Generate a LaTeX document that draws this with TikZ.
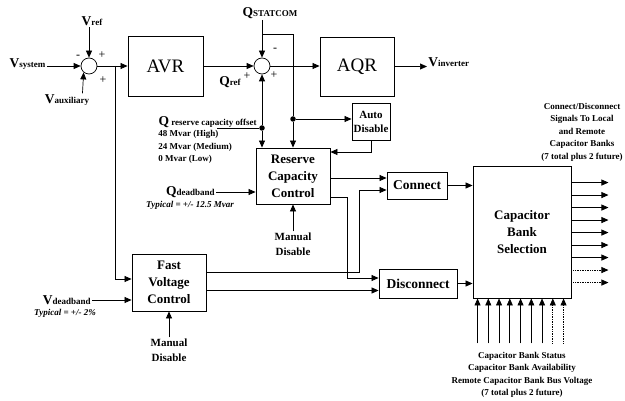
\documentclass[tikz,border=0pt]{standalone}
\usepackage{fontspec}
\setmainfont{Liberation Serif}
\usetikzlibrary{arrows.meta, positioning}

\newcommand{\senal}[2]{{\fontsize{13.5}{13.5}\selectfont #1}{\fontsize{9}{9}\selectfont #2}}

\begin{document}
\begin{tikzpicture}[x=1pt, y=-1pt, >={Triangle[length=7pt,width=6pt]},
                  line width=0.7pt,
                  bloque/.style={draw, line width=0.9pt, inner sep=1pt, align=center,
                    font=\bfseries\fontsize{13}{17}\selectfont},
                  grande/.style={draw, line width=0.9pt, font=\fontsize{19}{19}\selectfont},
                  suma/.style={draw, circle, minimum size=16pt, inner sep=0pt},
                  signo/.style={inner sep=0pt, font=\fontsize{12}{12}\selectfont},
                  etiqueta/.style={inner sep=1pt, font=\bfseries},
                  nota/.style={inner sep=1pt, align=center, font=\bfseries\fontsize{9}{12.5}\selectfont},
                  tipico/.style={inner sep=1pt, font=\bfseries\itshape\fontsize{9}{11}\selectfont},
                  manual/.style={inner sep=1pt, align=center, font=\bfseries\fontsize{11}{15}\selectfont},
                  punto/.style={circle, fill, inner sep=0pt, minimum size=5.5pt},
                  futuro/.style={densely dotted}]
                  
                  \useasboundingbox (0,0) rectangle (625,401);
                  
                  % Sumadores y bloques principales.
                  \node[suma] (s1) at (89,66) {};
                  \node[suma] (s2) at (262,66) {};
                  \node[grande, minimum width=75pt, minimum height=60pt] (avr) at (165.5,66) {AVR};
                  \node[grande, minimum width=74pt, minimum height=59pt] (aqr) at (357,66.5) {AQR};
                  \node[bloque, minimum width=38pt, minimum height=37pt,
                    font=\bfseries\fontsize{11}{14}\selectfont] (auto) at (371,121.5) {Auto\\Disable};
                  \node[bloque, minimum width=74pt, minimum height=56pt] (rcc) at (293,176)
                  {Reserve\\Capacity\\Control};
                  \node[bloque, minimum width=74pt, minimum height=57pt] (fvc) at (169,282.5)
                  {Fast\\Voltage\\Control};
                  \node[bloque, minimum width=60pt, minimum height=27pt,
                    font=\bfseries\fontsize{13.5}{13.5}\selectfont] (conn) at (417,185.5) {Connect};
                  \node[bloque, minimum width=78pt, minimum height=29pt,
                    font=\bfseries\fontsize{13.5}{13.5}\selectfont] (disc) at (418,283.5) {Disconnect};
                  \node[bloque, minimum width=98pt, minimum height=132pt] (cbs) at (522,232)
                  {Capacitor\\Bank\\Selection};
                  
                  % Etiquetas de las senales.
                  \node[etiqueta] (vsys) at (27.5,64) {\senal{V}{system}};
                  \node[etiqueta] (vref) at (92,21) {\senal{V}{ref}};
                  \node[etiqueta] (vaux) at (67,100) {\senal{V}{auxiliary}};
                  \node[etiqueta] (qref) at (230,82) {\senal{Q}{ref}};
                  \node[etiqueta] (qst) at (270,13) {\senal{Q}{STATCOM}};
                  \node[etiqueta, anchor=west] (vinv) at (427,62) {\senal{V}{inverter}};
                  \node[etiqueta, anchor=south east, inner sep=0pt] (qres) at (257,128)
                  {\senal{Q}{~reserve capacity offset}};
                  \node[nota, anchor=north west, align=left] (mvar) at (157,129)
                  {48 Mvar (High)\\24 Mvar (Medium)\\0 Mvar (Low)};
                  \node[etiqueta, anchor=east] (qdb) at (216,192) {\senal{Q}{deadband}};
                  \node[tipico] (tip1) at (190,205) {Typical = +/- 12.5 Mvar};
                  \node[etiqueta, anchor=east] (vdb) at (92,300) {\senal{V}{deadband}};
                  \node[tipico] (tip2) at (65,313) {Typical = +/- 2\%};
                  \node[manual] (man1) at (293,244) {Manual\\Disable};
                  \node[manual] (man2) at (169,350) {Manual\\Disable};
                  \node[nota] (sig) at (582,132)
                  {Connect/Disconnect\\Signals To Local\\and Remote\\Capacitor Banks\\(7 total plus 2 future)};
                  \node[nota] (est) at (522,375)
                  {Capacitor Bank Status\\Capacitor Bank Availability\\Remote Capacitor Bank Bus Voltage\\(7 total plus 2 future)};
                  
                  % Signos de los sumadores.
                  \node[signo] (m1) at (78,57) {-};
                  \node[signo] (p1) at (102,55) {+};
                  \node[signo] (p2) at (103,80) {+};
                  \node[signo] (p3) at (247,76) {+};
                  \node[signo] (p4) at (274,75) {+};
                  \node[signo] (m2) at (275,50) {-};
                  
                  % Puntos de derivacion.
                  \coordinate (b1) at (115,66);
                  \coordinate (c1) at (262,34);
                  \node[punto] (d1) at (262,128) {};
                  \node[punto] (d2) at (293,119) {};
                  
                  % Lazo de tension y de potencia reactiva.
                  \draw[->] (s1.west -| vsys.east) -- (s1.west);
                  \draw[->] (vref.south -| s1.north) -- (s1.north);
                  \draw[->] ([xshift=-8pt]vaux.north east) -- (s1.230);
                  \draw[->] (s1.east) -- (avr.west);
                  \draw[->] (b1) |- ([yshift=3.5pt]fvc.west);
                  \draw[->] (avr.east) -- (s2.west);
                  \draw[->] (s2.east) -- (s2.east -| aqr.west);
                  \draw[->] (aqr.east) -- (aqr.east -| vinv.west);
                  \draw[->] (qst.south -| s2.north) -- (s2.north);
                  \draw (c1) -| (d2);
                  \draw[->] (d2) -- (d2 |- rcc.north);
                  \draw[->] (d2) -- (d2 -| auto.west);
                  \draw ([xshift=-40pt]qres.south east) -- (d1);
                  \draw[->] (d1) -- (s2.south);
                  \draw[->] (d1) -- (d1 |- rcc.north);
                  \draw[->] (auto.south) |- ([yshift=24pt]rcc.east);
                  \draw[->] (qdb.east) -- (qdb.east -| rcc.west);
                  \draw[->] (man1.north) -- (rcc.south);
                  \draw[->] (vdb.east) -- (vdb.east -| fvc.west);
                  \draw[->] (man2.north) -- (fvc.south);
                  
                  % Ordenes de conexion y desconexion.
                  \draw[->] ([yshift=-2pt]rcc.east) -- ([yshift=-2pt]rcc.east -| conn.west);
                  \draw[->] ([yshift=-21pt]rcc.east) -| ([xshift=-31pt,yshift=5.5pt]disc.west)
                  -- ([yshift=5.5pt]disc.west);
                  \draw[->] ([yshift=10.5pt]fvc.east) -| ([xshift=-27pt,yshift=-4.5pt]conn.west)
                  -- ([yshift=-4.5pt]conn.west);
                  \draw[->] ([yshift=-8pt]fvc.east) -- ([yshift=-8pt]fvc.east -| disc.west);
                  \draw[->] (conn.east) -- (conn.east -| cbs.west);
                  \draw[->] (disc.east) -- (disc.east -| cbs.west);
                  
                  % Salidas y entradas de la seleccion de bancos.
                  \foreach \i/\estilo in {0/solid,1/solid,2/solid,3/solid,4/solid,5/solid,6/solid,7/futuro,8/futuro}{
                    \draw[->,\estilo] ([yshift={-(17+12.5*\i)*1pt}]cbs.north east) -- ++(37,0);
                    \draw[->,\estilo] ([xshift={(5+10.75*\i)*1pt}]cbs.south west) ++(0,45) -- ++(0,-45);
                  }
                
                \end{tikzpicture}
\end{document}
